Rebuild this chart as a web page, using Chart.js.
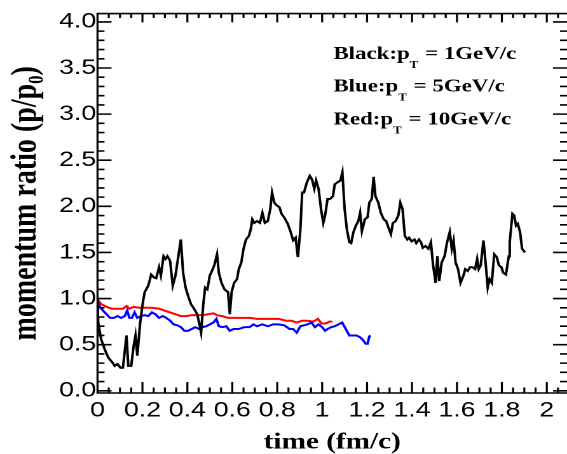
<!DOCTYPE html>
<html>
<head>
  <title>Momentum ratio vs time</title>
  <script src="https://cdn.jsdelivr.net/npm/chart.js"></script>
  <style>
    body { margin: 0; background: #fff; }
    #chart { display: block; }
  </style>
</head>
<body>
  <!-- drawn at 446 wide and stretched to 567, the reference is wider than tall in its glyphs -->
  <canvas id="chart" width="446" height="454" style="width:567px;height:454px"></canvas>

  <script>

// pT = 1 GeV/c (black)
const tBlack = [0, 0.003, 0.016, 0.032, 0.048, 0.065, 0.077, 0.089, 0.102, 0.113, 0.129, 0.137, 0.150, 0.161, 0.169, 0.177, 0.190,
  0.202, 0.210, 0.226, 0.239, 0.250, 0.261, 0.274, 0.282, 0.294, 0.303, 0.311, 0.323, 0.335, 0.347, 0.358, 0.371, 0.381, 0.392,
  0.403, 0.416, 0.427, 0.444, 0.452, 0.461, 0.471, 0.479, 0.489, 0.500, 0.513, 0.521, 0.532, 0.540, 0.552, 0.565, 0.581, 0.589,
  0.597, 0.608, 0.621, 0.629, 0.640, 0.650, 0.661, 0.674, 0.682, 0.689, 0.698, 0.710, 0.723, 0.734, 0.745, 0.758, 0.769, 0.777,
  0.787, 0.798, 0.810, 0.819, 0.831, 0.847, 0.860, 0.871, 0.882, 0.892, 0.903, 0.911, 0.919, 0.932, 0.945, 0.955, 0.965, 0.973,
  0.984, 0.995, 1.005, 1.013, 1.024, 1.035, 1.048, 1.056, 1.068, 1.081, 1.090, 1.100, 1.110, 1.121, 1.129, 1.139, 1.150, 1.161,
  1.169, 1.177, 1.190, 1.202, 1.210, 1.221, 1.229, 1.237, 1.250, 1.261, 1.274, 1.285, 1.298, 1.306, 1.315, 1.327, 1.339, 1.348,
  1.358, 1.368, 1.379, 1.387, 1.398, 1.411, 1.419, 1.431, 1.440, 1.448, 1.460, 1.473, 1.484, 1.494, 1.505, 1.513, 1.521, 1.532,
  1.545, 1.556, 1.568, 1.577, 1.585, 1.594, 1.605, 1.616, 1.629, 1.637, 1.648, 1.658, 1.669, 1.681, 1.690, 1.697, 1.706, 1.718,
  1.726, 1.737, 1.745, 1.755, 1.766, 1.777, 1.787, 1.798, 1.806, 1.818, 1.831, 1.835, 1.847, 1.855, 1.863, 1.871, 1.881, 1.890, 1.903];
const pBlack = [1.00, 0.74, 0.56, 0.45, 0.36, 0.31, 0.27, 0.29, 0.25, 0.25, 0.60, 0.27, 0.27, 0.49, 0.60, 0.38, 0.74,
  0.96, 1.07, 1.14, 1.26, 1.23, 1.22, 1.34, 1.25, 1.46, 1.43, 1.46, 1.41, 1.14, 1.25, 1.43, 1.64, 1.28, 1.12,
  1.03, 0.94, 0.90, 0.83, 0.74, 0.63, 0.94, 1.12, 1.10, 1.25, 1.32, 1.37, 1.48, 1.28, 1.17, 1.10, 1.07, 0.83,
  1.07, 1.17, 1.21, 1.32, 1.39, 1.54, 1.64, 1.68, 1.75, 1.86, 1.82, 1.84, 1.82, 1.93, 1.82, 1.84, 1.97, 2.15,
  2.04, 2.01, 1.99, 1.92, 1.88, 1.81, 1.72, 1.63, 1.66, 1.45, 1.75, 2.15, 2.15, 2.26, 2.33, 2.29, 2.19, 2.28,
  2.19, 1.97, 1.82, 1.90, 2.08, 2.08, 2.11, 2.24, 2.26, 2.28, 2.37, 1.97, 1.75, 1.61, 1.60, 1.72, 1.79, 1.84,
  1.93, 1.73, 1.86, 1.88, 2.04, 2.08, 2.32, 2.11, 2.04, 1.93, 1.86, 1.84, 1.75, 1.70, 1.82, 1.84, 1.90, 2.04,
  1.97, 1.68, 1.64, 1.66, 1.62, 1.64, 1.60, 1.64, 1.61, 1.55, 1.57, 1.54, 1.61, 1.36, 1.17, 1.46, 1.19, 1.39,
  1.46, 1.61, 1.72, 1.54, 1.63, 1.39, 1.32, 1.17, 1.25, 1.32, 1.30, 1.34, 1.34, 1.32, 1.43, 1.32, 1.36, 1.63,
  1.43, 1.12, 1.21, 1.17, 1.48, 1.45, 1.36, 1.34, 1.28, 1.26, 1.46, 1.61, 1.92, 1.90, 1.79, 1.81, 1.72, 1.54, 1.50];

// pT = 5 GeV/c (blue)
const tBlue = [0, 0.008, 0.024, 0.040, 0.056, 0.073, 0.089, 0.105, 0.121, 0.132, 0.142, 0.153, 0.165, 0.177, 0.194, 0.210,
  0.226, 0.242, 0.258, 0.274, 0.290, 0.306, 0.323, 0.339, 0.355, 0.371, 0.387, 0.403, 0.419, 0.435, 0.452, 0.468, 0.484,
  0.500, 0.516, 0.529, 0.540, 0.556, 0.573, 0.589, 0.605, 0.629, 0.653, 0.677, 0.694, 0.710, 0.734, 0.758, 0.782, 0.806,
  0.831, 0.855, 0.871, 0.887, 0.903, 0.919, 0.935, 0.952, 0.968, 0.984, 1.000, 1.013, 1.024, 1.040, 1.056, 1.073, 1.089,
  1.105, 1.121, 1.137, 1.153, 1.169, 1.182, 1.194, 1.202, 1.210, 1.215];
const pBlue = [0.98, 0.92, 0.87, 0.83, 0.79, 0.79, 0.81, 0.79, 0.81, 0.87, 0.79, 0.79, 0.85, 0.79, 0.81, 0.82,
  0.81, 0.85, 0.83, 0.79, 0.81, 0.79, 0.76, 0.72, 0.71, 0.69, 0.65, 0.65, 0.67, 0.69, 0.67, 0.69, 0.70,
  0.72, 0.74, 0.78, 0.70, 0.69, 0.70, 0.65, 0.67, 0.67, 0.69, 0.69, 0.72, 0.70, 0.72, 0.70, 0.72, 0.72,
  0.71, 0.67, 0.67, 0.63, 0.70, 0.71, 0.72, 0.74, 0.69, 0.72, 0.69, 0.65, 0.67, 0.69, 0.70, 0.72, 0.74,
  0.67, 0.60, 0.60, 0.60, 0.58, 0.55, 0.51, 0.51, 0.59, 0.60];

// pT = 10 GeV/c (red)
const tRed = [0, 0.016, 0.040, 0.065, 0.089, 0.113, 0.129, 0.142, 0.161, 0.185, 0.210, 0.242, 0.274, 0.298, 0.323, 0.347,
  0.371, 0.395, 0.419, 0.444, 0.468, 0.492, 0.516, 0.532, 0.556, 0.581, 0.613, 0.645, 0.677, 0.710, 0.742, 0.774, 0.806,
  0.839, 0.863, 0.887, 0.911, 0.935, 0.960, 0.981, 0.997, 1.016, 1.032, 1.045];
const pRed = [0.99, 0.94, 0.91, 0.89, 0.89, 0.89, 0.92, 0.89, 0.91, 0.90, 0.90, 0.90, 0.89, 0.87, 0.85, 0.83,
  0.81, 0.81, 0.82, 0.82, 0.82, 0.83, 0.84, 0.82, 0.81, 0.79, 0.79, 0.79, 0.79, 0.78, 0.78, 0.78, 0.78,
  0.76, 0.76, 0.74, 0.76, 0.76, 0.75, 0.78, 0.73, 0.73, 0.75, 0.75];

const xTicks = [0, 0.2, 0.4, 0.6, 0.8, 1, 1.2, 1.4, 1.6, 1.8, 2];
const xTickLabels = ['0', '0.2', '0.4', '0.6', '0.8', '1', '1.2', '1.4', '1.6', '1.8', '2'];
const yTicks = [0, 0.5, 1, 1.5, 2, 2.5, 3, 3.5, 4];
const yTickLabels = ['0.0', '0.5', '1.0', '1.5', '2.0', '2.5', '3.0', '3.5', '4.0'];

const legendLines = [
  ['Black:p', 'T', ' = 1GeV/c'],
  ['Blue:p', 'T', ' = 5GeV/c'],
  ['Red:p', 'T', ' = 10GeV/c']
];

const toPoints = (ts, ps) => ts.map((t, i) => ({ x: t, y: ps[i] }));

// ROOT style frame: ticks pointing inward on all four sides
const frameTicks = {
  id: 'frameTicks',
  afterDatasetsDraw(chart) {
    const { ctx, chartArea: a, scales: { x, y } } = chart;
    ctx.save();
    ctx.strokeStyle = '#000';
    ctx.lineWidth = 1.6;
    ctx.beginPath();
    ctx.moveTo(a.right, a.top);
    ctx.lineTo(a.left, a.top);
    ctx.lineTo(a.left, a.bottom);
    ctx.lineTo(a.right, a.bottom);
    for (let i = 0; i * 0.05 <= x.max; i++) {
      const px = x.getPixelForValue(i * 0.05);
      const len = i % 4 === 0 ? 11 : 5.5;
      ctx.moveTo(px, a.bottom);
      ctx.lineTo(px, a.bottom - len);
      ctx.moveTo(px, a.top);
      ctx.lineTo(px, a.top + len * 0.8);
    }
    for (let i = 0; i * 0.1 <= y.max; i++) {
      const py = y.getPixelForValue(i * 0.1);
      const len = i % 5 === 0 ? 11 : 5.5;
      ctx.moveTo(a.left, py);
      ctx.lineTo(a.left + len, py);
      ctx.moveTo(a.right, py);
      ctx.lineTo(a.right - len, py);
    }
    ctx.stroke();

    // text box in the upper right
    const x0 = x.getPixelForValue(1.05);
    const rows = [3.6, 3.245, 2.89];
    ctx.fillStyle = '#000';
    ctx.textBaseline = 'alphabetic';
    ctx.textAlign = 'left';
    legendLines.forEach((parts, k) => {
      const by = y.getPixelForValue(rows[k]);
      let cx = x0;
      ctx.font = 'bold 18px "Liberation Serif", serif';
      ctx.fillText(parts[0], cx, by);
      cx += ctx.measureText(parts[0]).width;
      ctx.font = 'bold 10px "Liberation Serif", serif';
      ctx.fillText(parts[1], cx, by + 9);
      cx += ctx.measureText(parts[1]).width + 1;
      ctx.font = 'bold 18px "Liberation Serif", serif';
      ctx.fillText(parts[2], cx, by);
    });
    ctx.restore();
  }
};

const ctx = document.getElementById('chart').getContext('2d');

new Chart(ctx, {
  type: 'line',
  data: {
    datasets: [
      { label: 'Black', data: toPoints(tBlack, pBlack), borderColor: '#000000' },
      { label: 'Blue', data: toPoints(tBlue, pBlue), borderColor: '#0000ff' },
      { label: 'Red', data: toPoints(tRed, pRed), borderColor: '#ff0000' }
    ]
  },
  options: {
    responsive: false,
    animation: false,
    devicePixelRatio: 2,
    layout: { padding: { top: 11.7, right: 0, bottom: 0, left: 0 } },
    elements: {
      line: { borderWidth: 2, tension: 0, fill: false },
      point: { radius: 0 }
    },
    plugins: {
      legend: { display: false },
      tooltip: { enabled: false }
    },
    scales: {
      x: {
        type: 'linear',
        position: 'bottom',
        min: 0,
        max: 2.09,
        grid: { display: false, drawTicks: false },
        border: { display: false },
        afterBuildTicks: s => { s.ticks = xTicks.map(v => ({ value: v })); },
        afterFit: s => { s.height = 61; },
        ticks: {
          autoSkip: false,
          maxRotation: 0,
          padding: 5,
          color: '#000',
          font: { family: '"Liberation Sans", Arial, sans-serif', size: 21 },
          callback: (v, i) => xTickLabels[i]
        },
        title: {
          display: true,
          text: 'time (fm/c)',
          color: '#000',
          padding: { top: 0, bottom: 0 },
          font: { family: '"Liberation Serif", serif', size: 23, weight: 'bold', lineHeight: 1 }
        }
      },
      y: {
        type: 'linear',
        position: 'left',
        min: -0.024,
        max: 4.09,
        grid: { display: false, drawTicks: false },
        border: { display: false },
        afterBuildTicks: s => { s.ticks = yTicks.map(v => ({ value: v })); },
        afterFit: s => { s.width = 76.7; },
        ticks: {
          autoSkip: false,
          padding: 1,
          color: '#000',
          font: { family: '"Liberation Sans", Arial, sans-serif', size: 21 },
          callback: (v, i) => yTickLabels[i]
        },
        title: {
          display: true,
          text: 'momentum ratio (p/p\u2080)',
          color: '#000',
          padding: { top: 7, bottom: 0 },
          font: { family: '"Liberation Serif", serif', size: 28, weight: 'bold', lineHeight: 1 }
        }
      }
    }
  },
  plugins: [frameTicks]
});
  </script>
</body>
</html>
